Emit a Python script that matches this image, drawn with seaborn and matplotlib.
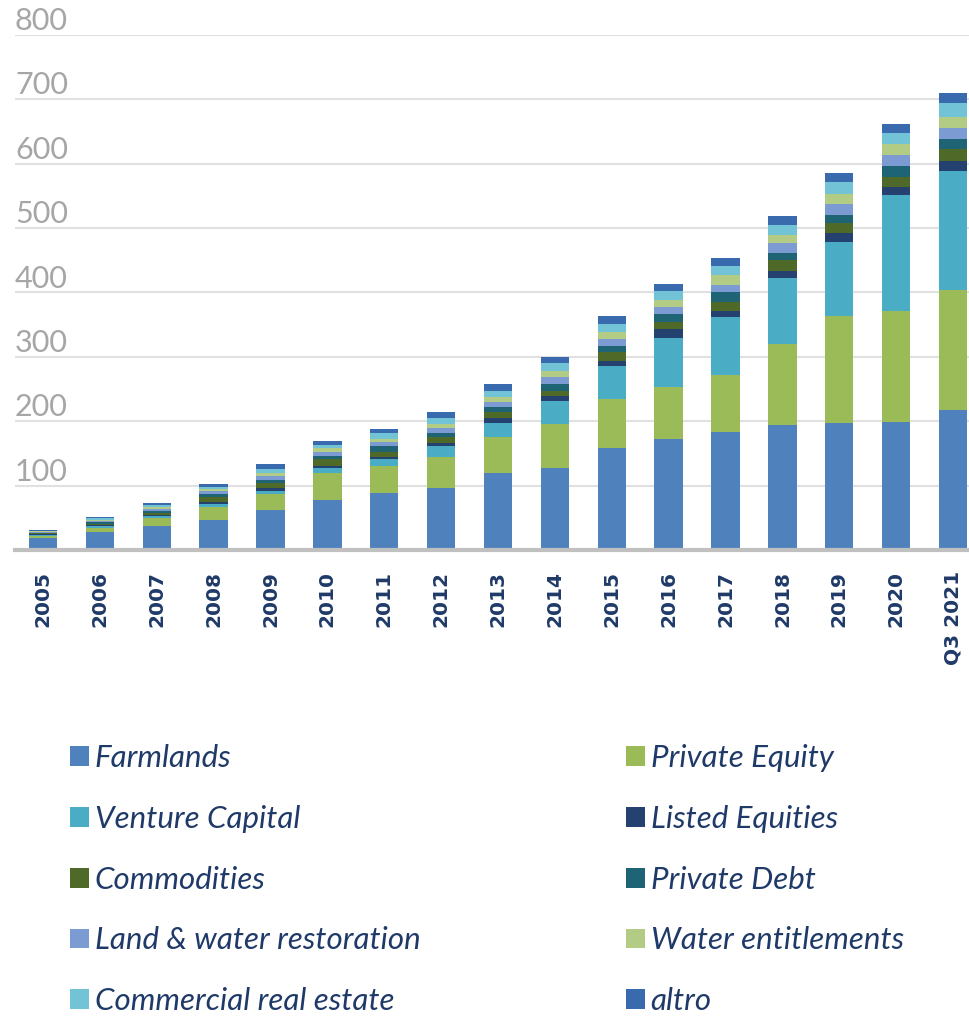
import numpy as np
import matplotlib.pyplot as plt
import seaborn as sns
from matplotlib.patches import Patch
from matplotlib.font_manager import FontProperties

sns.set_style("white")
plt.rcParams['font.family'] = ['Lato', 'DejaVu Sans']

# values (stack order bottom -> top)
years = ['2005', '2006', '2007', '2008', '2009', '2010', '2011', '2012', '2013',
         '2014', '2015', '2016', '2017', '2018', '2019', '2020', 'Q3 2021']
farmlands = [18, 28, 37, 47, 62, 78, 88, 97, 119, 128, 159, 172, 184, 194, 197, 199, 217]
private_equity = [4, 6, 13, 20, 25, 41, 42, 47, 56, 67, 75, 81, 88, 126, 166, 173, 187]
venture_capital = [2, 3, 3, 5, 5, 9, 11, 17, 22, 36, 52, 77, 90, 102, 116, 179, 184]
listed_equities = [1, 2, 2, 3, 5, 3, 4, 5, 8, 8, 8, 14, 10, 12, 13, 13, 17]
commodities = [1, 2, 3, 8, 7, 10, 8, 9, 9, 8, 14, 10, 14, 16, 16, 16, 18]
private_debt = [1, 2, 3, 4, 5, 5, 8, 6, 8, 11, 9, 12, 15, 12, 13, 17, 16]
land_water = [1, 2, 3, 4, 6, 6, 6, 8, 8, 10, 11, 12, 10, 15, 16, 16, 17]
water_entitlements = [1, 2, 3, 4, 5, 6, 6, 6, 7, 10, 11, 10, 16, 13, 16, 17, 17]
commercial_re = [1, 2, 3, 3, 6, 5, 8, 10, 10, 13, 12, 14, 14, 15, 18, 18, 21]
altro = [1, 2, 3, 5, 7, 6, 7, 9, 11, 9, 12, 11, 13, 14, 14, 14, 16]

series_names = ['Farmlands', 'Private Equity', 'Venture Capital', 'Listed Equities',
                'Commodities', 'Private Debt', 'Land & water restoration',
                'Water entitlements', 'Commercial real estate', 'altro']
series_values = [farmlands, private_equity, venture_capital, listed_equities,
                 commodities, private_debt, land_water, water_entitlements,
                 commercial_re, altro]
series_colors = ['#4F81BD', '#9BBB59', '#4BACC6', '#254170', '#4F6A28',
                 '#1F6474', '#7B9BD2', '#B2CC85', '#72C3D6', '#3A6AAE']

label_color = '#1F3A68'

fig = plt.figure(figsize=(9.7, 10.22), dpi=100)
ax = fig.add_axes([15/970, 1 - 550/1022, 955/970, 515/1022])

# stacked bars: draw cumulative totals from the top series down
cum = np.cumsum(np.array(series_values), axis=0)
for i in range(len(series_names) - 1, -1, -1):
    sns.barplot(x=years, y=cum[i], color=series_colors[i], saturation=1,
                width=0.5, errorbar=None, linewidth=0, ax=ax)

ax.set_xlim((15 - 43) / 56.875, (970 - 43) / 56.875)
ax.set_ylim(0, 800)
ax.set_xlabel('')
ax.set_ylabel('')

# y grid + labels sitting above each gridline
ax.set_yticks(range(100, 801, 100))
ax.yaxis.grid(True, color='#e0e0e0', lw=1.5)
ax.set_axisbelow(True)
ax.tick_params(axis='y', length=0, labelleft=False)
for v in range(100, 801, 100):
    ax.annotate(str(v), xy=(0, v), xycoords=('axes fraction', 'data'),
                xytext=(0, 3.6), textcoords='offset points',
                ha='left', va='baseline', fontsize=22, color='#a6a6a6')

for s in ['left', 'right', 'top']:
    ax.spines[s].set_visible(False)
ax.spines['bottom'].set_color('#c0c0c0')
ax.spines['bottom'].set_linewidth(3)

ax.set_xticks(range(len(years)))
ax.set_xticklabels(years, rotation=90, fontfamily='DejaVu Sans',
                   fontweight='bold', fontsize=14.5, color=label_color)
ax.tick_params(axis='x', length=0, pad=15)

# legend: two columns, row-major over the stack order
handles = [Patch(facecolor=c, edgecolor='none') for c in series_colors]
leg_font = FontProperties(family='Lato', style='italic', size=22.5)
col_x = [70 / 970, 626 / 970]
for k in range(2):
    idx = list(range(k, len(series_names), 2))
    leg = fig.legend([handles[i] for i in idx], [series_names[i] for i in idx],
                     loc='upper left', bbox_to_anchor=(col_x[k], 1 - 744 / 1022),
                     bbox_transform=fig.transFigure, frameon=False,
                     borderpad=0, borderaxespad=0, handlelength=0.6,
                     handleheight=0.6, handletextpad=0.19, labelspacing=1.05,
                     prop=leg_font, labelcolor=label_color)

fig.savefig('out.png', dpi=100)
